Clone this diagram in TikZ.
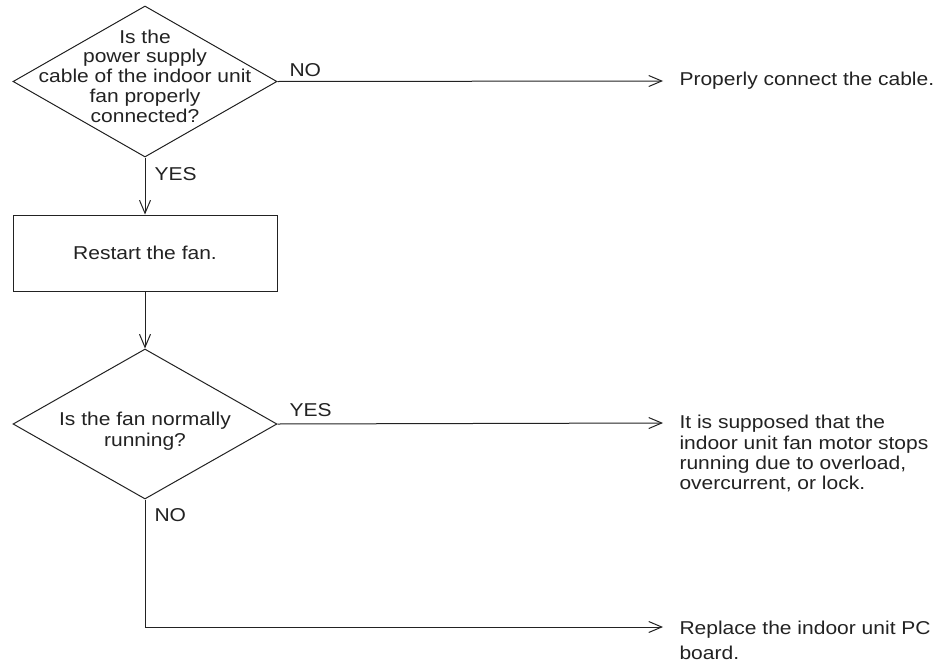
\documentclass[tikz,border=0pt]{standalone}
\usepackage{fontspec}
\setmainfont[FakeStretch=1.13]{Liberation Sans}
\usetikzlibrary{arrows.meta,shapes.geometric}
\definecolor{ink}{HTML}{222222}
\begin{document}
\begin{tikzpicture}[x=1pt,y=-1pt,line width=1pt,
  every node/.style={text=ink,font=\fontsize{18.6}{20}\selectfont},
  arr/.style={draw=ink,-{Straight Barb[length=13pt,width=11pt,line width=1pt]}},
  ln/.style={draw=ink},
  decision/.style={diamond,draw=ink,inner sep=0pt,minimum width=264pt,minimum height=151pt},
  stepbox/.style={rectangle,draw=ink,inner sep=0pt,minimum width=264pt,minimum height=76pt},
  lbl/.style={anchor=west,inner sep=0pt},
  result/.style={anchor=north west,inner sep=0pt,align=left}]
\useasboundingbox (0,0) rectangle (942,664);
\fill[white] (0,0) rectangle (942,664);
% decision 1
\node[decision] (d1) at (145,81.5) {};
\node[inner sep=0pt,align=center,font=\fontsize{18.6}{19.8}\selectfont] (d1t) at (145,76) {Is the\\power supply\\cable of the indoor unit\\fan properly\\connected?};
% step
\node[stepbox] (r) at (145,253) {Restart the fan.};
% decision 2
\node[decision,minimum height=150pt] (d2) at (145,424) {};
\node[inner sep=0pt,align=center,font=\fontsize{18.6}{21}\selectfont] (d2t) at (145,431) {Is the fan normally\\running?};
% results
\coordinate (e1) at (663,81);
\coordinate (e2) at (663,423);
\coordinate (e3) at (663,627);
\node[lbl] (t1) at (679,81) {Properly connect the cable.};
\node[result,font=\fontsize{18.6}{20.3}\selectfont] (t2) at (679,415) {It is supposed that the\\indoor unit fan motor stops\\running due to overload,\\overcurrent, or lock.};
\node[result,font=\fontsize{18.6}{25}\selectfont] (t3) at (679,620.5) {Replace the indoor unit PC\\board.};
% connectors
\draw[arr] (d1.east) -- (e1);
\draw[arr] (d1.south) -- (r.north);
\draw[arr] (r.south) -- (d2.north);
\draw[arr] (d2.east) -- (e2);
\draw[arr] (d2.south) |- (e3);
% labels
\node[lbl] (no1) at (289,70) {NO};
\node[lbl] (yes1) at (154,174) {YES};
\node[lbl] (yes2) at (289,410.5) {YES};
\node[lbl] (no2) at (154,515.5) {NO};
\end{tikzpicture}
\end{document}
